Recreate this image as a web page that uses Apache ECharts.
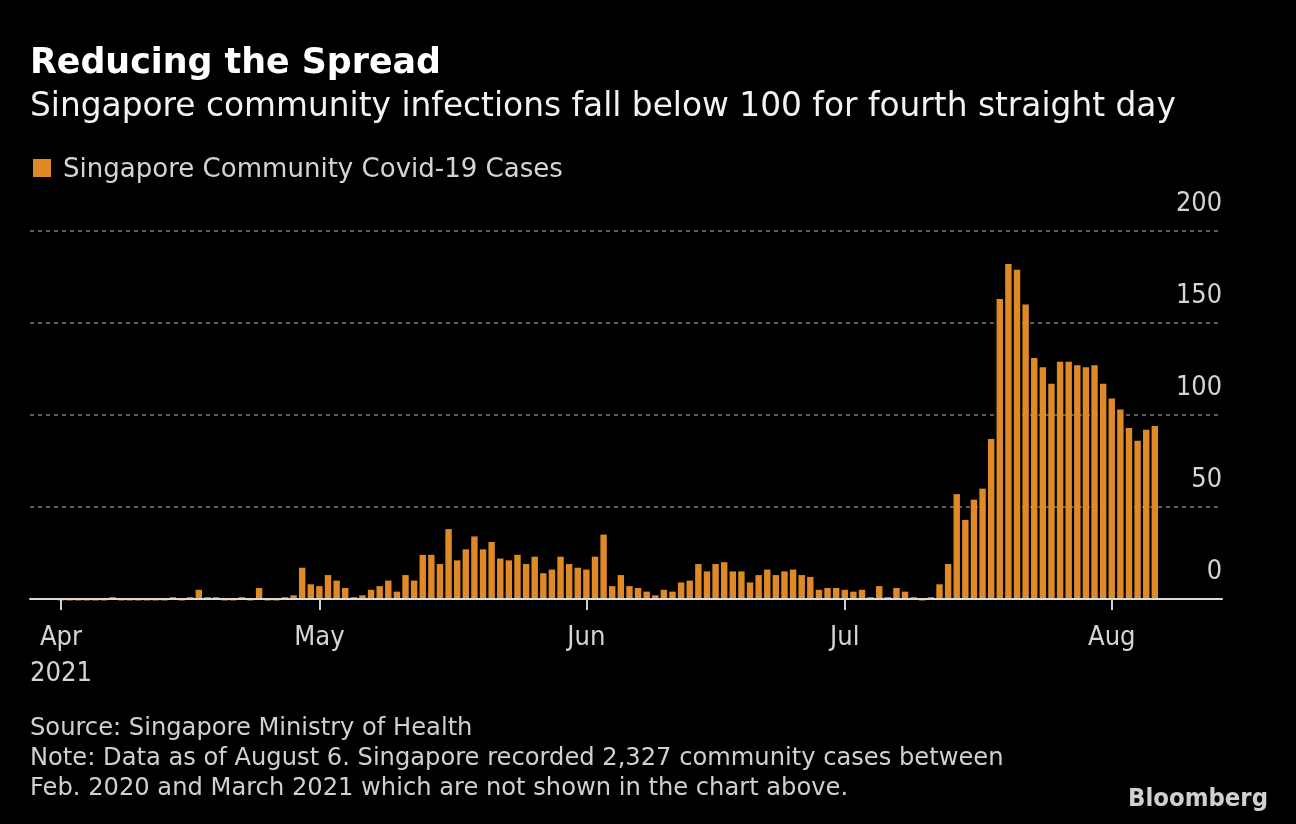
<!DOCTYPE html>
<html><head><meta charset="utf-8">
<script src="https://cdn.jsdelivr.net/npm/echarts@6/dist/echarts.min.js"></script>
<style>html,body{margin:0;padding:0;background:#000;}#c{width:1296px;height:824px;}</style>
</head><body><div id="c"></div>
<script>
// ---- data ----
const startDate = '2021-04-01';
const cases = [
  // April 1-30
  0,0,0,0,0,0,1,0,0,0, 0,0,0,1,0,1,5,1,1,0, 0,1,0,6,0,0,1,2,17,8,
  // May 1-31
  7,13,10,6,1,2,5,7,10,4, 13,10,24,24,19,38,21,27,34,27, 31,22,21,24,19,23,14,16,23,19, 17,
  // June 1-30
  16,23,35,7,13,7,6,4,2,5, 4,9,10,19,15,19,20,15,15,9, 13,16,13,15,16,13,12,5,6,6,
  // July 1-31
  5,4,5,1,7,1,6,4,1,0, 1,8,19,57,43,54,60,87,163,182, 179,160,131,126,117,129,129,127,126,127, 117,
  // August 1-6
  109,103,93,86,92,94
];
const monthTickDays = [0, 30, 61, 91, 122];
const monthTickLabels = ['Apr\n2021', 'May', 'Jun', 'Jul', 'Aug'];
const yTickValues = [0, 50, 100, 150, 200];
const seriesName = 'Singapore Community Covid-19 Cases';
const titleText = 'Reducing the Spread';
const subtitleText = 'Singapore community infections fall below 100 for fourth straight day';
const footerLines = [
  'Source: Singapore Ministry of Health',
  'Note: Data as of August 6. Singapore recorded 2,327 community cases between',
  'Feb. 2020 and March 2021 which are not shown in the chart above.'
];

// ---- styling ----
const FONT = '"DejaVu Sans", sans-serif';
const FONT_C = '"DejaVu Sans Condensed", "DejaVu Sans", sans-serif';
const mctx = document.createElement('canvas').getContext('2d');
function fit(text, width, weight, fam) {
  mctx.font = (weight || 'normal') + ' 100px ' + (fam || FONT);
  return +(100 * width / mctx.measureText(text).width).toFixed(2);
}
const fsTitle = fit(titleText, 411, 'bold');
const fsSub = fit(subtitleText, 1146);
const fsLegend = fit(seriesName, 500);
const fsAxis = fit('2021', 62, 'normal', FONT_C);
const fsY = fit('200', 46, 'normal', FONT_C);
const fsFoot = fit(footerLines[1], 974);
const fsLogo = fit('Bloomberg', 140, 'bold', FONT_C);
const BAR = '#df8a26';

const chart = echarts.init(document.getElementById('c'), null, {renderer: 'canvas'});
const barData = cases.map((v, i) => [i, v]);
const zeroData = cases.map((v, i) => [i, v === 0 ? -0.8 : null]);

const option = {
  backgroundColor: '#000',
  animation: false,
  grid: {left: 30, right: 74, top: 231, bottom: 225, containLabel: false},
  xAxis: {
    type: 'value', min: -3.6, max: 134.8, z: 5,
    splitLine: {show: false},
    axisLine: {show: true, onZero: false, lineStyle: {color: '#d9d9d9', width: 2}},
    axisTick: {show: true, customValues: monthTickDays, length: 11, lineStyle: {color: '#cfcfcf', width: 2}},
    axisLabel: {
      customValues: monthTickDays, showMinLabel: true, showMaxLabel: true,
      formatter: v => monthTickLabels[monthTickDays.indexOf(Math.round(v))] || '',
      color: '#d4d4d4', fontFamily: FONT_C, fontSize: fsAxis, lineHeight: 36, margin: 21, align: 'center'
    }
  },
  yAxis: {
    type: 'value', position: 'right', min: 0, max: 200, interval: 50,
    axisLine: {show: false}, axisTick: {show: false},
    splitLine: {show: true, lineStyle: {color: '#5a5a5a', width: 2, type: [4, 4]}},
    axisLabel: {
      inside: true, margin: 0, color: '#d4d4d4', fontFamily: FONT_C, fontSize: fsY,
      verticalAlign: 'bottom', lineHeight: 54
    }
  },
  series: [
    {name: seriesName, type: 'bar', data: barData, barWidth: 6.4, barGap: '-100%',
     itemStyle: {color: BAR}, z: 2},
    {name: 'zero', type: 'bar', data: zeroData, barWidth: 6.4, barGap: '-100%', clip: false,
     itemStyle: {color: BAR}, z: 2, silent: true}
  ],
  graphic: [
    {type: 'text', x: 30, y: 64, style: {text: titleText, fill: '#ffffff', font: 'bold ' + fsTitle + 'px ' + FONT, verticalAlign: 'middle'}},
    {type: 'text', x: 30, y: 107, style: {text: subtitleText, fill: '#f2f2f2', font: fsSub + 'px ' + FONT, verticalAlign: 'middle'}},
    {type: 'rect', shape: {x: 33, y: 159, width: 18, height: 18}, style: {fill: BAR}},
    {type: 'text', x: 63, y: 170, style: {text: seriesName, fill: '#d4d4d4', font: fsLegend + 'px ' + FONT, verticalAlign: 'middle'}},
    {type: 'text', x: 30, y: 729, style: {text: footerLines[0], fill: '#d0d0d0', font: fsFoot + 'px ' + FONT, verticalAlign: 'middle'}},
    {type: 'text', x: 30, y: 759, style: {text: footerLines[1], fill: '#d0d0d0', font: fsFoot + 'px ' + FONT, verticalAlign: 'middle'}},
    {type: 'text', x: 30, y: 789, style: {text: footerLines[2], fill: '#d0d0d0', font: fsFoot + 'px ' + FONT, verticalAlign: 'middle'}},
    {type: 'text', x: 1268, y: 799, style: {text: 'Bloomberg', fill: '#d0d0d0', font: 'bold ' + fsLogo + 'px ' + FONT_C, verticalAlign: 'middle', align: 'right'}}
  ]
};
chart.setOption(option);
</script></body></html>
